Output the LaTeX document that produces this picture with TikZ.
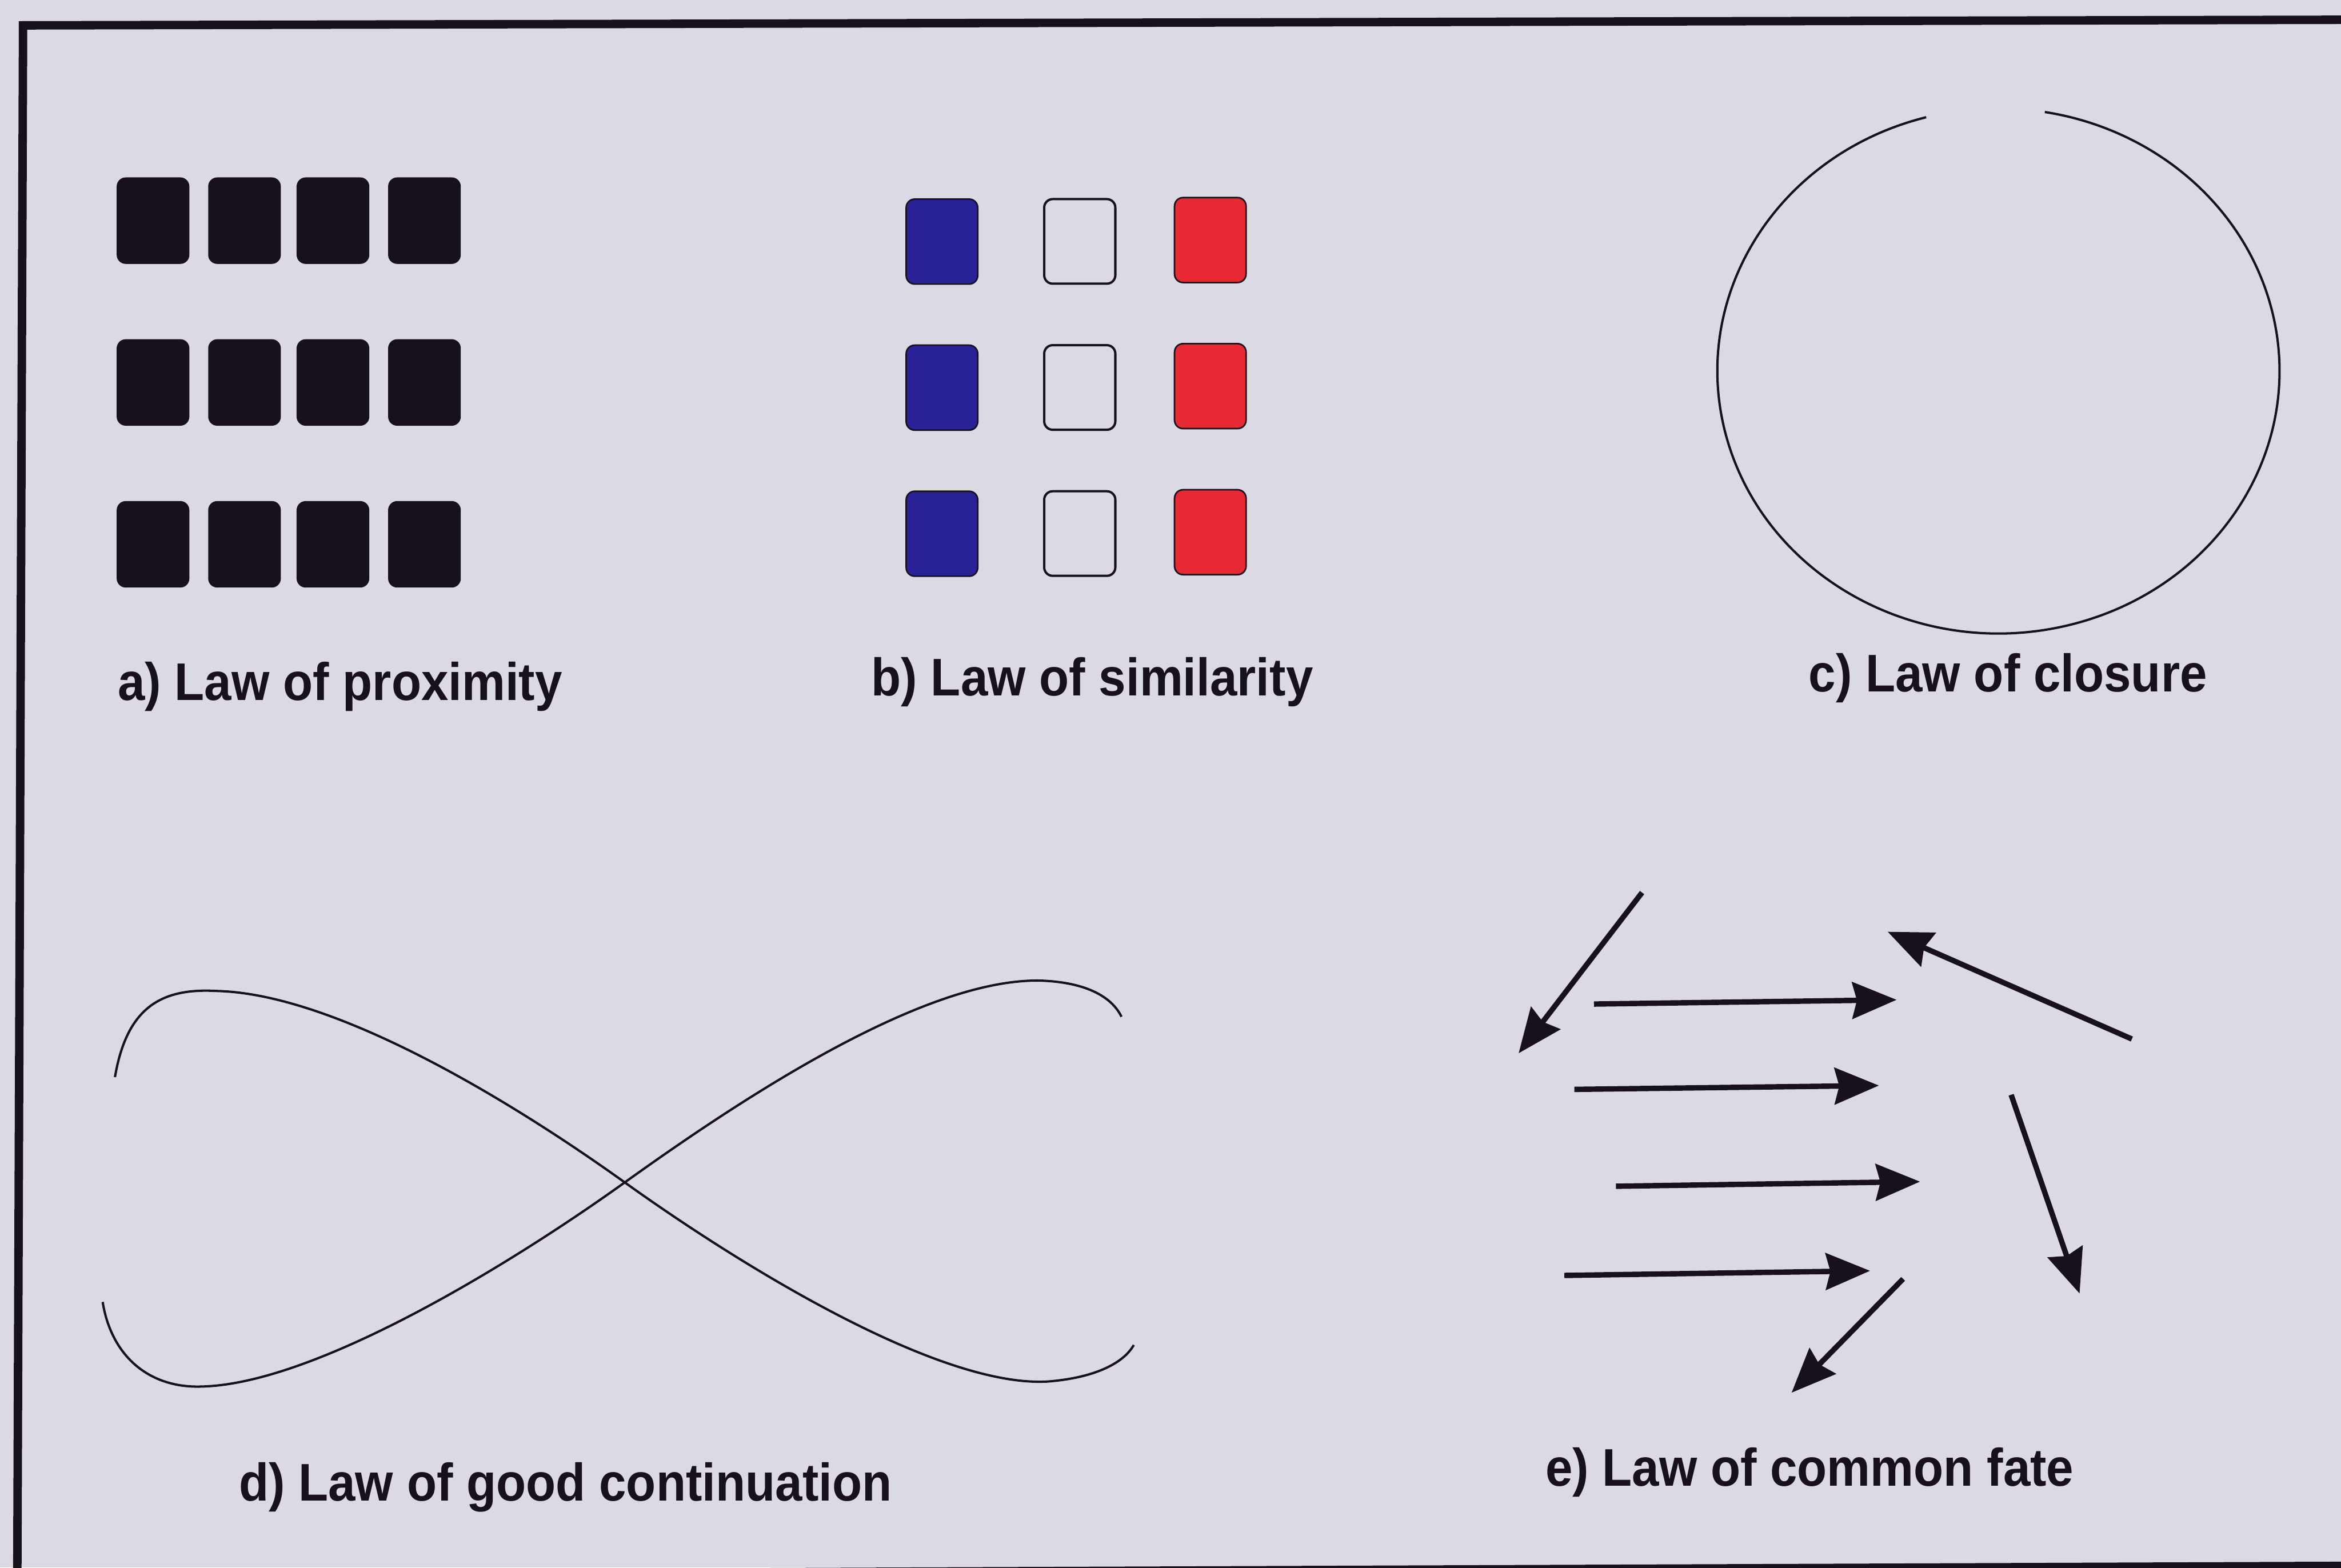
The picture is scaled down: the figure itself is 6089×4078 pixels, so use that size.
\documentclass[tikz,border=0pt]{standalone}
\usepackage{fontspec}
\setmainfont[FakeStretch=0.92]{Liberation Sans}
\usetikzlibrary{arrows.meta}
\definecolor{paper}{RGB}{219,218,228}
\definecolor{ink}{RGB}{24,16,28}
\definecolor{sqblue}{RGB}{40,34,150}
\definecolor{sqred}{RGB}{232,40,50}
\tikzset{
  blk/.style={fill=ink, draw=ink, line width=0.03cm, rounded corners=0.22cm},
  blu/.style={fill=sqblue, draw=ink, line width=0.04cm, rounded corners=0.22cm},
  wht/.style={draw=ink, line width=0.06cm, rounded corners=0.22cm},
  redsq/.style={fill=sqred, draw=ink, line width=0.04cm, rounded corners=0.22cm},
  thinline/.style={draw=ink, line width=0.06cm},
  frame/.style={draw=ink, line width=0.22cm},
  arr/.style={draw=ink, line width=0.14cm, -{Stealth[length=1.15cm,width=0.95cm,inset=0.12cm]}},
  lbl/.style={anchor=base west, inner sep=0pt, text=ink, font=\fontsize{39.2}{46}\selectfont\bfseries},
}
\begin{document}
\begin{tikzpicture}[x=0.01cm, y=-0.01cm]
\useasboundingbox (0,0) rectangle (6089,4078);
\fill[paper] (0,0) rectangle (6089,4078);
% frame
\draw[frame] (6250,51) -- (60,66) -- (45,4098) -- (6250,4073);
% a) proximity
\foreach \x in {305,543,773,1011}{
  \foreach \y in {463,884,1305}{
    \path[blk] (\x,\y) rectangle ++(186,222);
  }
}
% b) similarity
\foreach \y in {518,898,1278}{
  \path[blu] (2357,\y) rectangle ++(186,221);
  \path[wht] (2716,\y) rectangle ++(185,220);
  \path[redsq] (3055,\y-4) rectangle ++(186,221);
}
% c) closure
\coordinate (cc) at (5198,965);
\draw[thinline] (5010,305) arc[start angle=255.1, end angle=-80.5, x radius=731, y radius=683];
% d) good continuation
\draw[thinline] (299,2802) .. controls (330,2620) and (420,2570) .. (563,2578)
  .. controls (870,2585) and (1325,2861) .. (1625,3076)
  .. controls (1925,3291) and (2440,3610) .. (2725,3594)
  .. controls (2840,3585) and (2920,3550) .. (2949,3499);
\draw[thinline] (267,3387) .. controls (290,3530) and (390,3612) .. (525,3607)
  .. controls (820,3600) and (1325,3291) .. (1625,3076)
  .. controls (1925,2861) and (2400,2545) .. (2706,2551)
  .. controls (2820,2555) and (2890,2590) .. (2917,2645);
% e) common fate
\coordinate (a1s) at (4271,2322); \coordinate (a1e) at (3950,2740);
\coordinate (a2s) at (4146,2612); \coordinate (a2e) at (4933,2601);
\coordinate (a3s) at (5545,2703); \coordinate (a3e) at (4910,2424);
\coordinate (a4s) at (4095,2834); \coordinate (a4e) at (4887,2824);
\coordinate (a5s) at (5231,2848); \coordinate (a5e) at (5409,3365);
\coordinate (a6s) at (4203,3086); \coordinate (a6e) at (4994,3074);
\coordinate (a7s) at (4069,3318); \coordinate (a7e) at (4864,3306);
\coordinate (a8s) at (4950,3327); \coordinate (a8e) at (4660,3623);
\foreach \i in {1,...,8}{ \draw[arr] (a\i s) -- (a\i e); }
% labels
\node[lbl] (la) at (306,1822) {a) Law of proximity};
\node[lbl] (lb) at (2266,1810) {b) Law of similarity};
\node[lbl] (lc) at (4704,1800) {c) Law of closure};
\node[lbl] (ld) at (621,3905) {d) Law of good continuation};
\node[lbl] (le) at (4019,3866) {e) Law of common fate};
\end{tikzpicture}
\end{document}
